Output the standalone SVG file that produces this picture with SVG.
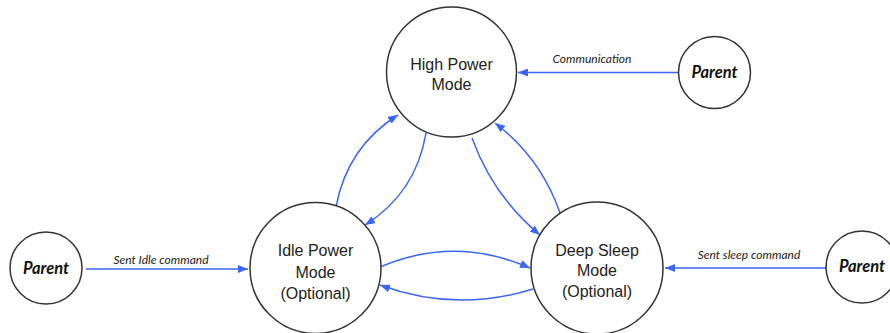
<svg xmlns="http://www.w3.org/2000/svg" width="890" height="333" viewBox="0 0 890 333">
  <style>
    .node { fill: #ffffff; stroke: #333333; stroke-width: 1.5; }
    .mode { font-family: "Liberation Sans", Arial, sans-serif; font-size: 16px; fill: #222222; text-anchor: middle; }
    .parent { font-family: Lato, "Open Sans", sans-serif; font-size: 16.5px; font-weight: bold; font-style: italic; fill: #111111; text-anchor: middle; }
    .label { font-family: Lato, "Open Sans", sans-serif; font-size: 12px; font-style: italic; fill: #222222; text-anchor: middle; }
    .edge { fill: none; stroke: #3a66f5; stroke-width: 1.5; marker-end: url(#arrow); }
  </style>
  <defs>
    <marker id="arrow" viewBox="0 0 10 8" refX="10" refY="4" markerWidth="10" markerHeight="8" markerUnits="userSpaceOnUse" orient="auto">
      <path d="M0,0 L10,4 L0,8 z" fill="#3a66f5"/>
    </marker>
  </defs>

  <rect width="890" height="333" fill="#ffffff"/>

  <g id="connectors">
    <!-- parents to modes -->
    <path class="edge" d="M678,72.5 L518,72.5"/>
    <path class="edge" d="M86,269 L248,269"/>
    <path class="edge" d="M826,268 L665,268"/>
    <!-- idle <-> high -->
    <path class="edge" d="M336,207 Q347,147 398,115"/>
    <path class="edge" d="M426,133 Q416,193 365,225"/>
    <!-- high <-> deep sleep -->
    <path class="edge" d="M472,138 Q493,196 540,235"/>
    <path class="edge" d="M560,213 Q541,158 495,123"/>
    <!-- idle <-> deep sleep -->
    <path class="edge" d="M380,267 Q455,235 530,268"/>
    <path class="edge" d="M533,289 Q456,313 380,285"/>
  </g>

  <g id="edge-labels">
    <text class="label" x="592" y="63">Communication</text>
    <text class="label" x="161" y="264">Sent Idle command</text>
    <text class="label" x="749" y="259">Sent sleep command</text>
  </g>

  <g id="high-power">
    <circle class="node" cx="451.5" cy="72" r="65"/>
    <text class="mode" x="451.5" y="70">High Power</text>
    <text class="mode" x="451.5" y="90">Mode</text>
  </g>

  <g id="idle-power">
    <circle class="node" cx="315.5" cy="268" r="65.5"/>
    <text class="mode" x="315.5" y="256">Idle Power</text>
    <text class="mode" x="315.5" y="278">Mode</text>
    <text class="mode" x="315.5" y="299">(Optional)</text>
  </g>

  <g id="deep-sleep">
    <circle class="node" cx="597" cy="268" r="66"/>
    <text class="mode" x="597" y="256">Deep Sleep</text>
    <text class="mode" x="597" y="276">Mode</text>
    <text class="mode" x="597" y="297">(Optional)</text>
  </g>

  <g id="parent-top">
    <circle class="node" cx="714.5" cy="72.5" r="36"/>
    <text class="parent" x="714.5" y="78">Parent</text>
  </g>

  <g id="parent-left">
    <circle class="node" cx="46" cy="268" r="36"/>
    <text class="parent" x="46" y="274">Parent</text>
  </g>

  <g id="parent-right">
    <circle class="node" cx="862" cy="267" r="36"/>
    <text class="parent" x="862" y="272">Parent</text>
  </g>
</svg>
